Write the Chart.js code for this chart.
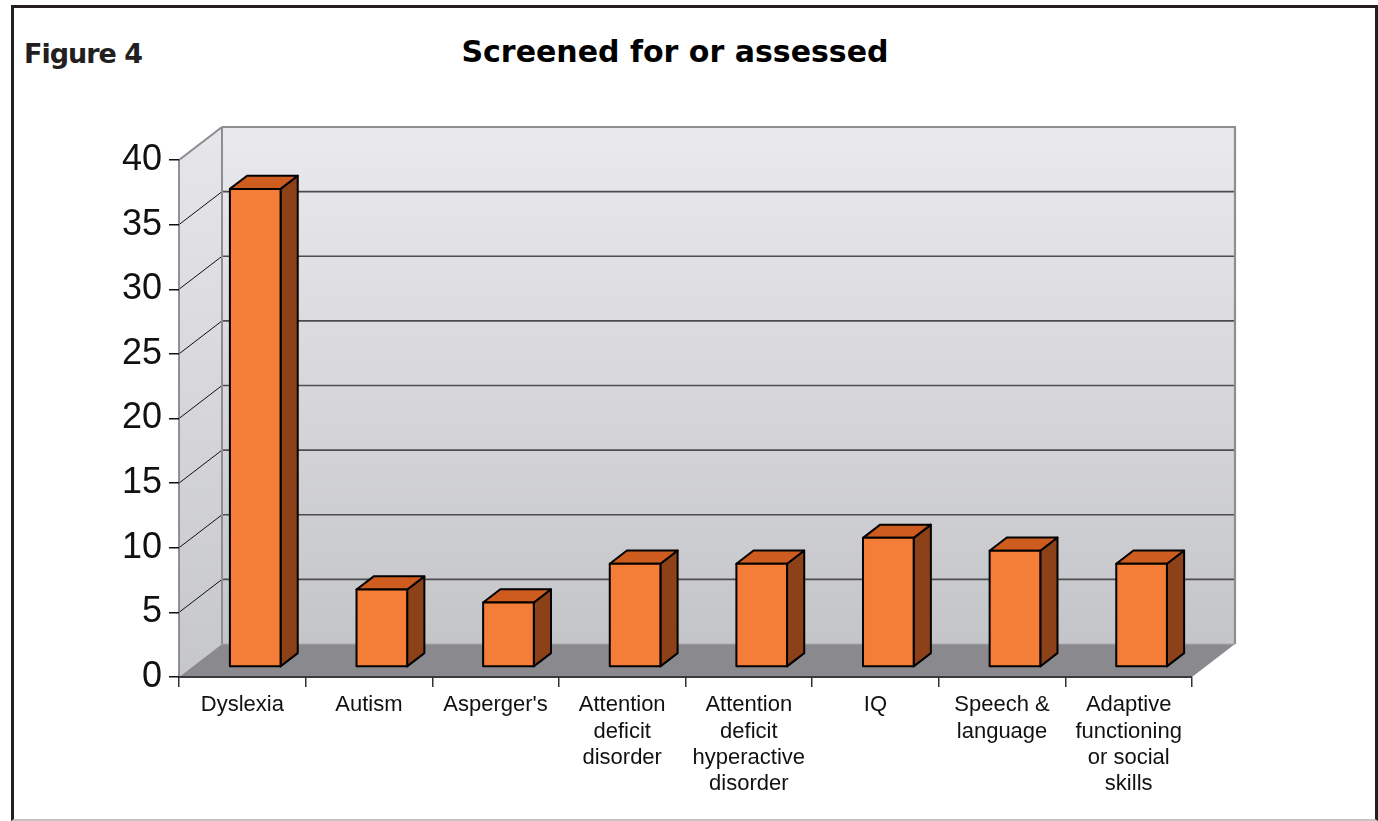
<!DOCTYPE html>
<html>
<head>
<meta charset="utf-8">
<script src="https://cdn.jsdelivr.net/npm/chart.js@4.4.1/dist/chart.umd.min.js"></script>
<style>
html,body{margin:0;padding:0;background:#fff;}
body{width:1378px;height:821px;position:relative;overflow:hidden;}
#frame{position:absolute;left:11px;top:5px;width:1367px;height:816px;box-sizing:border-box;
  border-left:3px solid #231f20;border-top:3px solid #231f20;border-right:3px solid #231f20;border-bottom:2px solid #c4c4c4;}
#fig{position:absolute;left:24px;top:40px;font-family:"DejaVu Sans",sans-serif;font-weight:bold;font-size:27px;line-height:27px;letter-spacing:-1px;color:#231f20;white-space:nowrap;}
#title{position:absolute;left:675px;top:37px;transform:translateX(-50%);font-family:"DejaVu Sans",sans-serif;font-weight:bold;font-size:30px;line-height:30px;color:#000;white-space:nowrap;}
canvas{position:absolute;left:0;top:0;}
</style>
</head>
<body>
<div id="frame"></div>
<div id="fig">Figure 4</div>
<div id="title">Screened for or assessed</div>
<canvas id="c" width="1378" height="821"></canvas>
<script>
const categories = ['Dyslexia', 'Autism', "Asperger's",
  ['Attention', 'deficit', 'disorder'],
  ['Attention', 'deficit', 'hyperactive', 'disorder'],
  'IQ',
  ['Speech &', 'language'],
  ['Adaptive', 'functioning', 'or social', 'skills']];
const values = [37, 6, 5, 8, 8, 10, 9, 8];
const yMin = 0, yMax = 40, yStep = 5;

// 3D appearance constants (styling only)
const DX = 43, DY = 33;          // full depth of the box
const BAR_FRONT = 0.3, BAR_DEPTH = 0.4;

function poly(ctx, pts) {
  ctx.beginPath();
  ctx.moveTo(pts[0], pts[1]);
  for (let i = 2; i < pts.length; i += 2) ctx.lineTo(pts[i], pts[i + 1]);
  ctx.closePath();
}
function line(ctx, x1, y1, x2, y2, color, w) {
  ctx.beginPath(); ctx.moveTo(x1, y1); ctx.lineTo(x2, y2);
  ctx.strokeStyle = color; ctx.lineWidth = w; ctx.stroke();
}

const threeD = {
  id: 'threeD',
  beforeDraw(chart) {
    const ctx = chart.ctx, a = chart.chartArea, y = chart.scales.y;
    const L = a.left, R = a.right, T = y.getPixelForValue(yMax), B = y.getPixelForValue(yMin);
    ctx.save();
    // back wall
    let g = ctx.createLinearGradient(0, T - DY, 0, B - DY);
    g.addColorStop(0, '#e9e9ee'); g.addColorStop(1, '#c4c5c9');
    ctx.fillStyle = g; ctx.fillRect(L + DX, T - DY, R - L, B - T);
    // left wall
    g = ctx.createLinearGradient(0, T - DY, 0, B);
    g.addColorStop(0, '#e6e6eb'); g.addColorStop(1, '#c6c7cb');
    poly(ctx, [L, T, L + DX, T - DY, L + DX, B - DY, L, B]);
    ctx.fillStyle = g; ctx.fill();
    // floor
    poly(ctx, [L, B, L + DX, B - DY, R + DX, B - DY, R, B]);
    ctx.fillStyle = '#8a898e'; ctx.fill();
    line(ctx, L + DX, B - DY, R + DX, B - DY, '#a8a8ac', 1);
    // gridlines
    y.ticks.forEach(t => {
      if (t.value <= yMin || t.value >= yMax) return;
      const py = y.getPixelForValue(t.value);
      line(ctx, L + DX, py - DY, R + DX, py - DY, '#4d4d50', 1.6);
      line(ctx, L, py, L + DX, py - DY, '#111', 1);
    });
    // wall outlines
    line(ctx, L + DX, T - DY, R + DX + 1, T - DY, '#8e8e90', 2.2);
    line(ctx, R + DX, T - DY, R + DX, B - DY, '#8e8e90', 2.2);
    line(ctx, L, T, L + DX, T - DY, '#8e8e90', 2.2);
    line(ctx, L + DX, T - DY, L + DX, B - DY, '#8e8e90', 2);
    line(ctx, L, T, L, B, '#7a7a7c', 1.6);
    // floor front edge
    line(ctx, L, B, R, B, '#3a3a3a', 2);
    ctx.restore();
  },
  afterDatasetsDraw(chart) {
    const ctx = chart.ctx;
    const meta = chart.getDatasetMeta(0);
    const fx = DX * BAR_FRONT, fy = DY * BAR_FRONT;
    const bx = DX * BAR_DEPTH, by = DY * BAR_DEPTH;
    ctx.save();
    ctx.lineWidth = 2; ctx.strokeStyle = '#000'; ctx.lineJoin = 'round';
    meta.data.forEach(bar => {
      const w = bar.width;
      const x0 = bar.x - w / 2 + fx, x1 = x0 + w;
      const yt = bar.y - fy, yb = bar.base - fy;
      poly(ctx, [x1, yt, x1 + bx, yt - by, x1 + bx, yb - by, x1, yb]);
      ctx.fillStyle = '#8c4119'; ctx.fill(); ctx.stroke();
      poly(ctx, [x0, yt, x0 + bx, yt - by, x1 + bx, yt - by, x1, yt]);
      ctx.fillStyle = '#cf5c1f'; ctx.fill(); ctx.stroke();
      poly(ctx, [x0, yt, x1, yt, x1, yb, x0, yb]);
      ctx.fillStyle = '#f47d38'; ctx.fill(); ctx.stroke();
    });
    ctx.restore();
  }
};

new Chart(document.getElementById('c'), {
  type: 'bar',
  data: {
    labels: categories,
    datasets: [{
      data: values,
      backgroundColor: 'rgba(0,0,0,0)',
      borderWidth: 0,
      barPercentage: 0.4,
      categoryPercentage: 1.0
    }]
  },
  options: {
    responsive: false,
    animation: false,
    events: [],
    layout: { padding: { left: 0, top: 160, right: 186, bottom: 0 } },
    plugins: { legend: { display: false }, title: { display: false }, tooltip: { enabled: false } },
    scales: {
      x: {
        afterFit: s => { s.height = 144; },
        grid: { display: true, drawOnChartArea: false, drawTicks: true, tickLength: 10, color: '#333', offset: true, lineWidth: 1.5 },
        border: { display: false },
        ticks: {
          font: { family: '"Liberation Sans", Arial, sans-serif', size: 22, lineHeight: 1.2 },
          color: '#111', padding: 5, maxRotation: 0, autoSkip: false
        }
      },
      y: {
        min: yMin, max: yMax,
        afterFit: s => { s.width = 179; },
        grid: { display: true, drawOnChartArea: false, drawTicks: true, tickLength: 10, color: '#111', lineWidth: 1.5 },
        border: { display: false },
        ticks: {
          stepSize: yStep,
          font: { family: '"Liberation Sans", Arial, sans-serif', size: 36 },
          color: '#111', padding: 7
        }
      }
    }
  },
  plugins: [threeD]
});
</script>
</body>
</html>
